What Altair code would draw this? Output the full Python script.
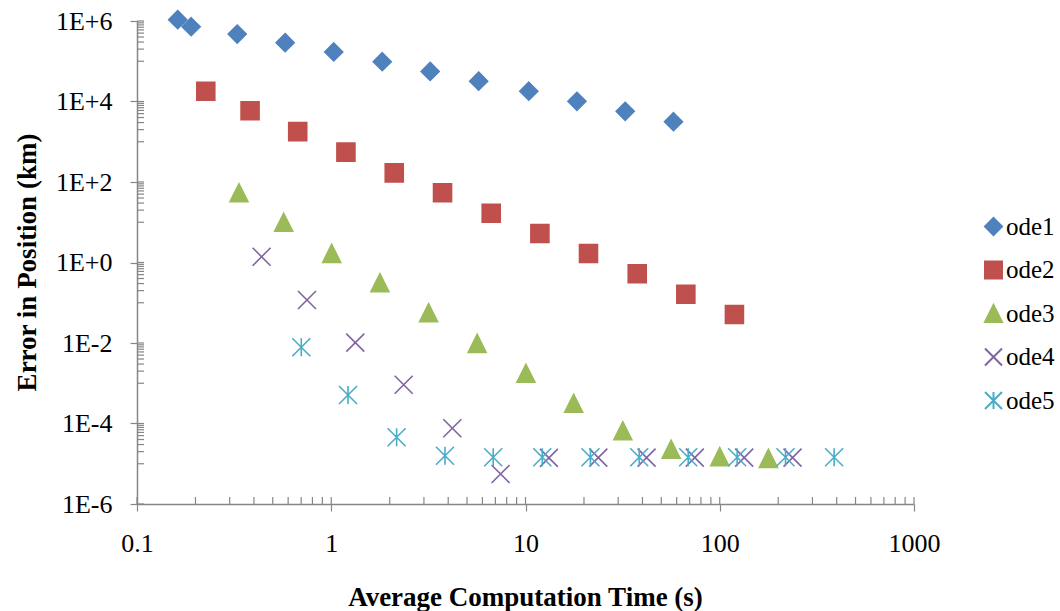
import altair as alt
import pandas as pd

series_names = ["ode1", "ode2", "ode3", "ode4", "ode5"]

ode1_time = [0.162, 0.190, 0.328, 0.579, 1.03, 1.83, 3.23, 5.74, 10.4, 18.4, 32.6, 57.8]
ode1_err = [1.08e6, 7.2e5, 4.75e5, 2.9e5, 1.7e5, 9.75e4, 5.6e4, 3.2e4, 1.8e4, 1.01e4, 5.7e3, 3.15e3]

ode2_time = [0.226, 0.382, 0.672, 1.19, 2.11, 3.74, 6.66, 11.86, 21.1, 37.6, 66.9, 119]
ode2_err = [1.8e4, 5.9e3, 1.78e3, 553, 169, 54, 16.8, 5.25, 1.67, 0.524, 0.163, 0.051]

ode3_time = [0.335, 0.569, 1.005, 1.78, 3.17, 5.64, 10.05, 17.7, 31.7, 56.2, 100, 178]
ode3_err = [54, 10, 1.69, 0.315, 0.0566, 0.0098, 0.00177, 3.18e-4, 6.6e-5, 2.29e-5, 1.5e-5, 1.36e-5]

ode4_time = [0.438, 0.750, 1.33, 2.36, 4.20, 7.44, 13.2, 23.7, 42.0, 74.4, 133.6, 237]
ode4_err = [1.39, 0.117, 0.0102, 9.2e-4, 7.6e-5, 5.57e-6, 1.4e-5, 1.42e-5, 1.42e-5, 1.42e-5, 1.42e-5, 1.42e-5]

ode5_time = [0.701, 1.22, 2.17, 3.85, 6.82, 12.2, 21.6, 38.5, 68.8, 122.9, 218, 388]
ode5_err = [7.82e-3, 5.1e-4, 4.54e-5, 1.58e-5, 1.45e-5, 1.45e-5, 1.45e-5, 1.45e-5, 1.45e-5, 1.45e-5, 1.45e-5, 1.45e-5]

x_major = [0.1, 1, 10, 100, 1000]
y_major = [1e-6, 1e-4, 1e-2, 1, 1e2, 1e4, 1e6]
x_minor = [m * d for d in [0.1, 1, 10, 100] for m in range(2, 10)]
y_minor = [m * 10.0 ** e for e in [-5, -3, -1, 1, 3, 5] for m in range(1, 10)]

stroke_colors = ["#4F81BD", "#C0504D", "#9BBB59", "#8064A2", "#4BACC6"]
fill_colors = ["#4F81BD", "#C0504D", "#9BBB59", "transparent", "transparent"]
shape_paths = [
    "M0,-1L1,0L0,1L-1,0Z",
    "M-1,-1L1,-1L1,1L-1,1Z",
    "M0,-1L1,1L-1,1Z",
    "M-1,-1L1,1M-1,1L1,-1",
    "M-1,-1L1,1M-1,1L1,-1M0,-1L0,1",
]

rows = []
for name, ts, es in zip(series_names,
                        [ode1_time, ode2_time, ode3_time, ode4_time, ode5_time],
                        [ode1_err, ode2_err, ode3_err, ode4_err, ode5_err]):
    for t, e in zip(ts, es):
        rows.append({"series": name, "time": t, "error": e})
df = pd.DataFrame(rows)

FONT = "Liberation Serif"
AXIS_GRAY = "#868686"
W, H = 777, 483

x_scale = alt.Scale(type="log", domain=[0.1, 1000], nice=False)
y_scale = alt.Scale(type="log", domain=[1e-6, 1e6], nice=False)

x_axis = alt.Axis(
    values=x_major, format="~g", title="Average Computation Time (s)",
    grid=False, domainColor=AXIS_GRAY, domainWidth=1.5, tickColor=AXIS_GRAY,
    tickSize=7, tickWidth=1.2, labelFont=FONT, labelFontSize=26, labelColor="black",
    labelPadding=19, labelFlush=False, labelOverlap=False,
    titleFont=FONT, titleFontSize=27, titleFontWeight="bold",
    titleColor="black", titleX=388, titleY=93, titleBaseline="middle", titleAlign="center",
)
y_axis = alt.Axis(
    values=y_major,
    labelExpr="'1E' + (datum.value >= 1 ? '+' : '-') + format(abs(log(datum.value) / LN10), '.0f')",
    title="Error in Position (km)",
    grid=False, domainColor=AXIS_GRAY, domainWidth=1.5, tickColor=AXIS_GRAY,
    tickSize=7, tickWidth=1.2, labelFont=FONT, labelFontSize=26, labelColor="black",
    labelPadding=18, labelFlush=False, labelOverlap=False,
    titleFont=FONT, titleFontSize=27, titleFontWeight="bold",
    titleColor="black", titleX=-110, titleY=241, titleAngle=270,
    titleBaseline="middle", titleAlign="center",
)

legend = alt.Legend(
    title=None, orient="none", legendX=844, legendY=193, direction="vertical",
    labelFont=FONT, labelFontSize=25, labelColor="black", labelOffset=0,
    symbolSize=289, symbolStrokeWidth=2, rowPadding=17.5, padding=0,
)

points = alt.Chart(df).mark_point(opacity=1, strokeWidth=1.6, size=324).encode(
    x=alt.X("time:Q", scale=x_scale, axis=x_axis),
    y=alt.Y("error:Q", scale=y_scale, axis=y_axis),
    shape=alt.Shape("series:N", scale=alt.Scale(domain=series_names, range=shape_paths), legend=legend),
    stroke=alt.Stroke("series:N", scale=alt.Scale(domain=series_names, range=stroke_colors), legend=legend),
    fill=alt.Fill("series:N", scale=alt.Scale(domain=series_names, range=fill_colors), legend=legend),
)

x_ticks_df = pd.DataFrame({"time": x_minor + x_major})
y_ticks_df = pd.DataFrame({"error": y_minor + y_major})

x_inner = alt.Chart(x_ticks_df).mark_rule(color=AXIS_GRAY, strokeWidth=1.2).encode(
    x=alt.X("time:Q", scale=x_scale, axis=x_axis),
    y=alt.value(H),
    y2=alt.value(H - 7),
)
y_inner = alt.Chart(y_ticks_df).mark_rule(color=AXIS_GRAY, strokeWidth=1.2).encode(
    y=alt.Y("error:Q", scale=y_scale, axis=y_axis),
    x=alt.value(0),
    x2=alt.value(7),
)

chart = alt.layer(points, x_inner, y_inner).properties(
    width=W, height=H,
    autosize=alt.AutoSizeParams(type="none"),
    padding={"left": 137, "top": 21, "right": 1060 - 137 - W, "bottom": 611 - 21 - H},
    background="white",
).configure_view(stroke=None)

chart.save("out.html", embed_options={"renderer": "svg", "actions": False})
